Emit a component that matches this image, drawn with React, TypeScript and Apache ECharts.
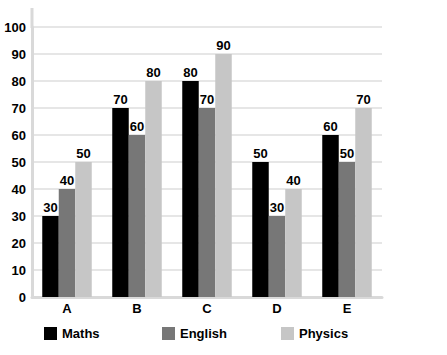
import React, { useEffect, useRef } from "react";
import * as echarts from "echarts";

const categories = ["A", "B", "C", "D", "E"];
const maths = [30, 70, 80, 50, 60];
const english = [40, 60, 70, 30, 50];
const physics = [50, 80, 90, 40, 70];
const seriesNames = ["Maths", "English", "Physics"];
const colors = ["#000000", "#777777", "#c6c6c6"];

export default function App() {
  const ref = useRef<HTMLDivElement>(null);
  useEffect(() => {
    if (!ref.current) return;
    const chart = echarts.init(ref.current, null, { renderer: "svg" });
    const font = "'Liberation Sans', Arial, sans-serif";
    const label = {
      show: true,
      position: "top" as const,
      distance: 2,
      color: "#000",
      fontWeight: "bold" as const,
      fontSize: 13,
      fontFamily: font,
    };
    const datas = [maths, english, physics];
    const legendLefts = [44, 162, 281];
    chart.setOption({
      animation: false,
      backgroundColor: "#ffffff",
      grid: { left: 32, right: 65, top: 27, bottom: 58 },
      legend: seriesNames.map((n, i) => ({
        data: [n],
        left: legendLefts[i],
        top: 327,
        padding: 0,
        itemWidth: 13,
        itemHeight: 13,
        itemGap: 0,
        icon: "rect",
        textStyle: { color: "#000", fontWeight: "bold", fontSize: 13, fontFamily: font },
        selectedMode: false,
      })),
      xAxis: {
        type: "category",
        data: categories,
        axisLine: { show: true, lineStyle: { color: "#d9d9d9", width: 3 } },
        axisTick: { show: false },
        axisLabel: { color: "#000", fontWeight: "bold", fontSize: 13, fontFamily: font, margin: 5 },
        splitLine: { show: false },
      },
      yAxis: {
        type: "value",
        min: 0,
        max: 100,
        interval: 10,
        axisLine: { show: true, lineStyle: { color: "#d9d9d9", width: 3 } },
        axisTick: { show: false },
        axisLabel: { color: "#000", fontWeight: "bold", fontSize: 13, fontFamily: font, margin: 6 },
        splitLine: { show: true, lineStyle: { color: "#e6e6e6", width: 2 } },
      },
      graphic: [
        {
          type: "line",
          shape: { x1: 32, y1: 8, x2: 32, y2: 28 },
          style: { stroke: "#d9d9d9", lineWidth: 3 },
        },
      ],
      series: seriesNames.map((n, i) => ({
        name: n,
        type: "bar",
        data: datas[i],
        barWidth: 16.5,
        barGap: "0%",
        itemStyle: { color: colors[i] },
        label,
      })),
    });
    return () => chart.dispose();
  }, []);
  return (
    <div
      ref={ref}
      style={{ position: "fixed", left: 0, top: 0, width: 447, height: 355, background: "#fff" }}
    />
  );
}
